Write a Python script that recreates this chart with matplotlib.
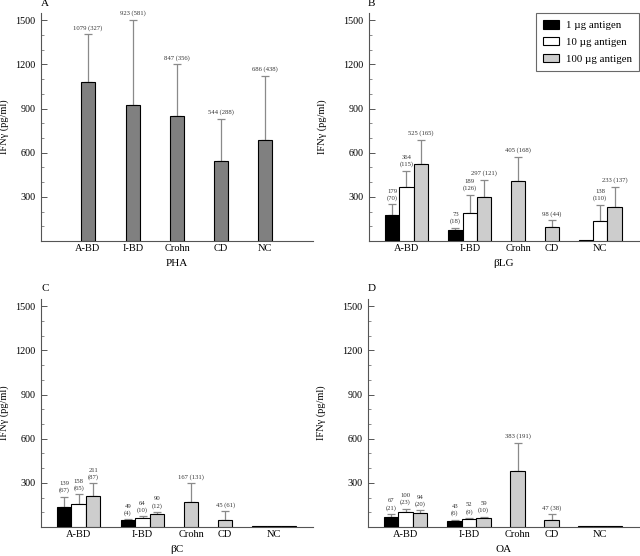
import numpy as np
import matplotlib
matplotlib.use("Agg")
import matplotlib.pyplot as plt
from matplotlib.patches import Patch
from matplotlib.ticker import MultipleLocator

plt.rcParams["font.family"] = ["Liberation Serif", "DejaVu Serif"]

nan = np.nan

# ---- données -------------------------------------------------------------
groups = ["A-BD", "I-BD", "Crohn", "CD", "NC"]
doses = ["1 µg antigen", "10 µg antigen", "100 µg antigen"]

pha_mean = [1079, 923, 847, 544, 686]
pha_sd = [327, 581, 356, 288, 438]

blg_1 = [179, 73, nan, nan, 5]
blg_1_sd = [70, 18, nan, nan, nan]
blg_10 = [364, 189, nan, nan, 138]
blg_10_sd = [115, 126, nan, nan, 110]
blg_100 = [525, 297, 405, 98, 233]
blg_100_sd = [165, 121, 168, 44, 137]

bc_1 = [139, 49, nan, nan, 4]
bc_1_sd = [67, 4, nan, nan, nan]
bc_10 = [158, 64, nan, nan, 4]
bc_10_sd = [65, 10, nan, nan, nan]
bc_100 = [211, 90, 167, 45, 4]
bc_100_sd = [87, 12, 131, 61, nan]

oa_1 = [67, 43, nan, nan, 4]
oa_1_sd = [21, 6, nan, nan, nan]
oa_10 = [100, 52, nan, nan, 4]
oa_10_sd = [23, 9, nan, nan, nan]
oa_100 = [94, 59, 383, 47, 4]
oa_100_sd = [20, 10, 191, 38, nan]

yticks = [300, 600, 900, 1200, 1500]

# ---- mise en page ----------------------------------------------------------
W, H = 640, 556
XMAX = 18.75
pos_single = [3.24, 6.34, 9.38, 12.41, 15.45]
pos_group = [2.6, 7.0, 10.35, 12.7, 16.05]
dose_colors = ["black", "white", "#cdcdcd"]
err_color = "#8a8a8a"
txt_color = "#333333"


def px_axes(fig, left, right, top, bottom):
    return fig.add_axes([left / W, 1 - bottom / H, (right - left) / W, (bottom - top) / H])


def style_axes(ax, letter, xlabel, ylabel_x, letter_px):
    ax.set_xlim(0, XMAX)
    ax.set_ylim(0, 1550)
    ax.set_yticks(yticks)
    ax.yaxis.set_minor_locator(MultipleLocator(100))
    ax.tick_params(axis="y", which="major", direction="in", length=4.5, width=0.7,
                   color="#555555", labelsize=7.3, pad=4)
    ax.tick_params(axis="y", which="minor", direction="in", length=2.2, width=0.6,
                   color="#777777")
    ax.tick_params(axis="x", length=0, labelsize=7.5, pad=2)
    ax.set_xticks(pos_group if letter != "A" else pos_single)
    ax.set_xticklabels(groups)
    for s in ["top", "right"]:
        ax.spines[s].set_visible(False)
    for s in ["left", "bottom"]:
        ax.spines[s].set_color("#555555")
        ax.spines[s].set_linewidth(0.8)
    ax.set_ylabel("IFNγ (pg/ml)", fontsize=7.5)
    ax.yaxis.set_label_coords(ylabel_x, 0.5)
    ax.set_xlabel(xlabel, fontsize=8)
    ax.xaxis.set_label_coords(0.5, -0.08)
    # lettre du panneau, placée en pixels depuis le haut de la figure
    ax.figure.text(letter_px[0] / W, 1 - letter_px[1] / H, letter, fontsize=8,
                   ha="left", va="top")


def annotate(ax, x, m, s, stacked):
    if np.isnan(s):
        return
    txt = f"{m}\n({s})" if stacked else f"{m} ({s})"
    ax.annotate(txt, (x, m + s), xytext=(0, 2.5), textcoords="offset points",
                ha="center", va="bottom", fontsize=4.8, color=txt_color,
                linespacing=1.3)


def grouped(ax, series, sds, single_line_series=()):
    for g in range(len(groups)):
        present = [k for k in range(3) if not np.isnan(series[k][g])]
        if len(present) == 1:
            offsets = {present[0]: 0}
        else:
            offsets = {k: k - 1 for k in present}
        for k in present:
            x = pos_group[g] + offsets[k]
            m = series[k][g]
            s = sds[k][g]
            ax.bar(x, m, width=1.0, color=dose_colors[k], edgecolor="black",
                   linewidth=0.8, zorder=3)
            if not np.isnan(s):
                ax.errorbar(x, m, yerr=[[0], [s]], fmt="none", ecolor=err_color,
                            elinewidth=0.9, capsize=3, capthick=0.9, zorder=2)
            stacked = len(present) > 1 and k not in single_line_series
            annotate(ax, x, int(m), int(s) if not np.isnan(s) else s, stacked)


fig = plt.figure(figsize=(W / 100, H / 100), dpi=100)

# A : PHA
axA = px_axes(fig, 41, 313, 13, 241)
axA.bar(pos_single, pha_mean, width=1.0, color="#808080", edgecolor="black",
        linewidth=0.8, zorder=3)
axA.errorbar(pos_single, pha_mean, yerr=[np.zeros(5), pha_sd], fmt="none",
             ecolor=err_color, elinewidth=0.9, capsize=3, capthick=0.9, zorder=2)
for x, m, s in zip(pos_single, pha_mean, pha_sd):
    annotate(axA, x, m, s, False)
style_axes(axA, "A", "PHA", -0.118, (41, -1))

# B : bLG
axB = px_axes(fig, 369, 639, 13, 241)
grouped(axB, [blg_1, blg_10, blg_100], [blg_1_sd, blg_10_sd, blg_100_sd],
        single_line_series=(2,))
style_axes(axB, "B", "βLG", -0.155, (368, -1))
handles = [Patch(facecolor=c, edgecolor="black", linewidth=0.8) for c in dose_colors]
leg = axB.legend(handles, doses, loc="upper right", bbox_to_anchor=(1.0, 1.0),
                 borderaxespad=0, fontsize=7.8, frameon=True, fancybox=False,
                 handlelength=1.5, handleheight=0.85, labelspacing=0.62,
                 borderpad=0.65, handletextpad=0.6)
leg.get_frame().set_edgecolor("#444444")
leg.get_frame().set_linewidth(0.8)

# C : bC
axC = px_axes(fig, 41, 313, 299, 527)
grouped(axC, [bc_1, bc_10, bc_100], [bc_1_sd, bc_10_sd, bc_100_sd])
style_axes(axC, "C", "βC", -0.118, (41, 284))

# D : OA
axD = px_axes(fig, 368, 639, 299, 527)
grouped(axD, [oa_1, oa_10, oa_100], [oa_1_sd, oa_10_sd, oa_100_sd])
style_axes(axD, "D", "OA", -0.155, (368, 284))

fig.savefig("out.png", dpi=100)
